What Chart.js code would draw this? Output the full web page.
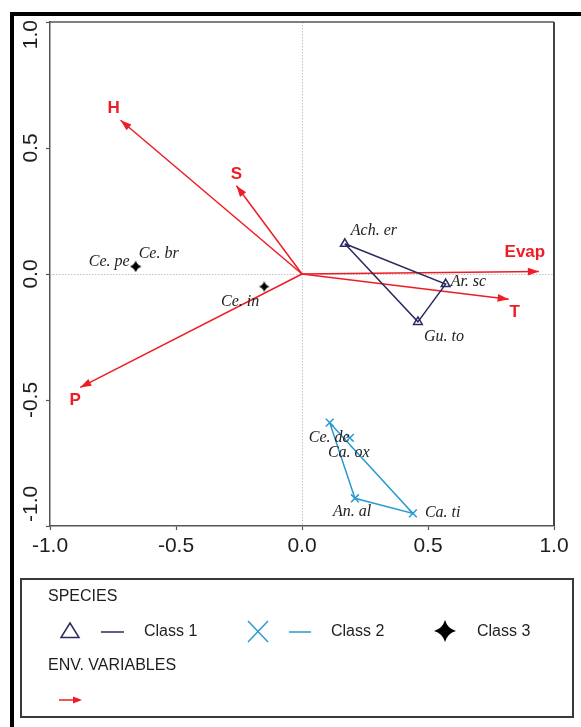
<!DOCTYPE html>
<html><head><meta charset="utf-8">
<script src="https://cdn.jsdelivr.net/npm/chart.js@4.4.1/dist/chart.umd.min.js"></script>
<style>html,body{margin:0;padding:0;background:#fff}canvas{display:block}</style>
</head><body>
<canvas id="c" width="581" height="727"></canvas>
<script>
// ---- data ----
const xTickLabels = ['-1.0','-0.5','0.0','0.5','1.0'];
const yTickLabels = ['-1.0','-0.5','0.0','0.5','1.0'];
const envNames = ['H','S','Evap','T','P'];
const envX = [-0.72,-0.26,0.94,0.82,-0.88];
const envY = [0.61,0.35,0.01,-0.10,-0.45];
const class1Names = ['Ach. er','Ar. sc','Gu. to'];
const class1X = [0.17,0.57,0.46];
const class1Y = [0.12,-0.04,-0.19];
const class2Names = ['Ce. de','Ca. ox','An. al','Ca. ti'];
const class2X = [0.11,0.19,0.21,0.44];
const class2Y = [-0.59,-0.65,-0.89,-0.95];
const class3Names = ['Ce. pe','Ce. br','Ce. in'];
const class3X = [-0.66,-0.66,-0.15];
const class3Y = [0.03,0.03,-0.05];
const class1Hull = [0,1,2,0];
const class2Hull = [0,3,2,0];
const legendClasses = ['Class 1','Class 2','Class 3'];
const legendTitles = ['SPECIES','ENV. VARIABLES'];

// ---- styles ----
const RED = '#ee1c25', NAVY = '#2a2a62', LBLUE = '#2a9bd0', TXT = '#1e1e1e';
const SANS = '"Liberation Sans", Arial, sans-serif';
const SERIF = '"Liberation Serif", "Times New Roman", serif';
const labelPlace = {
  'Ach. er':[6,-13,'left'], 'Ar. sc':[5,-2,'left'], 'Gu. to':[6,15,'left'],
  'Ce. de':[-21,15,'left'], 'Ca. ox':[-22,15,'left'], 'An. al':[-22,14,'left'], 'Ca. ti':[12,-1,'left'],
  'Ce. pe':[-6,-5,'right'], 'Ce. br':[3,-13,'left'], 'Ce. in':[-5,15,'right']
};
const envLabelPlace = {H:[-7,-12], S:[0,-11], Evap:[-14,-19], T:[6,13], P:[-5,13]};

function starPath(ctx, cx, cy, r){
  const k = r*0.22;
  ctx.beginPath();
  ctx.moveTo(cx, cy-r);
  ctx.quadraticCurveTo(cx+k, cy-k, cx+r, cy);
  ctx.quadraticCurveTo(cx+k, cy+k, cx, cy+r);
  ctx.quadraticCurveTo(cx-k, cy+k, cx-r, cy);
  ctx.quadraticCurveTo(cx-k, cy-k, cx, cy-r);
  ctx.closePath();
}
const starImg = document.createElement('canvas');
starImg.width = 12; starImg.height = 12;
(function(){ const g = starImg.getContext('2d'); g.fillStyle='#000'; starPath(g,6,6,5.5); g.fill(); })();

function pts(xs, ys, idx){ return (idx || xs.map((_,i)=>i)).map(i=>({x:xs[i], y:ys[i]})); }

const datasets = [];
envNames.forEach((n,i)=>{
  datasets.push({label:n, data:[{x:0,y:0},{x:envX[i],y:envY[i]}], showLine:true,
    borderColor:RED, borderWidth:1.5, pointRadius:0, order:5});
});
datasets.push({label:'c1hull', data:pts(class1X,class1Y,class1Hull), showLine:true, borderColor:NAVY, borderWidth:1.5, pointRadius:0});
datasets.push({label:'c2hull', data:pts(class2X,class2Y,class2Hull), showLine:true, borderColor:LBLUE, borderWidth:1.5, pointRadius:0});
datasets.push({label:'Class 1', data:pts(class1X,class1Y), pointStyle:'triangle', pointRadius:5, borderColor:NAVY, backgroundColor:'rgba(0,0,0,0)', borderWidth:1.5});
datasets.push({label:'Class 2', data:pts(class2X,class2Y), pointStyle:'crossRot', pointRadius:5.5, borderColor:LBLUE, borderWidth:1.5});
datasets.push({label:'Class 3', data:pts(class3X,class3Y), pointStyle:starImg, pointRadius:6});

const decor = {
  id:'decor',
  beforeDraw(chart){
    const ctx = chart.ctx;
    ctx.save();
    ctx.fillStyle = '#fff'; ctx.fillRect(0,0,chart.width,chart.height);
    ctx.fillStyle = '#000';
    ctx.fillRect(10,12,571,4);
    ctx.fillRect(10,12,4,715);
    ctx.restore();
  },
  beforeDatasetsDraw(chart){
    const {ctx, chartArea:a, scales:{x,y}} = chart;
    ctx.save();
    ctx.strokeStyle = '#a8a8a8'; ctx.lineWidth = 0.7; ctx.setLineDash([1.5,1.5]);
    const x0 = Math.round(x.getPixelForValue(0))+0.5, y0 = Math.round(y.getPixelForValue(0))+0.5;
    ctx.beginPath(); ctx.moveTo(x0,a.top); ctx.lineTo(x0,a.bottom); ctx.stroke();
    ctx.beginPath(); ctx.moveTo(a.left,y0); ctx.lineTo(a.right,y0); ctx.stroke();
    ctx.setLineDash([]);
    ctx.strokeStyle = '#555'; ctx.lineWidth = 1.5;
    ctx.beginPath(); ctx.moveTo(a.left,a.top); ctx.lineTo(a.right,a.top); ctx.stroke();
    ctx.strokeStyle = '#444'; ctx.lineWidth = 2;
    ctx.beginPath(); ctx.moveTo(a.right,a.top); ctx.lineTo(a.right,a.bottom); ctx.stroke();
    ctx.restore();
  },
  afterDraw(chart){
    const {ctx, chartArea:a, scales:{x,y}} = chart;
    ctx.save();
    // y tick labels (rotated)
    ctx.fillStyle = TXT; ctx.font = '21px '+SANS; ctx.textBaseline = 'middle';
    const yVals = [-1,-0.5,0,0.5,1];
    yVals.forEach((v,i)=>{
      let py = y.getPixelForValue(v), align = 'center';
      if (i === yVals.length-1){ py = a.top - 2; align = 'right'; }
      if (i === 0){ py = a.bottom - 4; align = 'left'; }
      ctx.save(); ctx.translate(30, py); ctx.rotate(-Math.PI/2);
      ctx.textAlign = align; ctx.fillText(yTickLabels[i], 0, 1); ctx.restore();
    });
    // arrowheads + env labels
    const ox = x.getPixelForValue(0), oy = y.getPixelForValue(0);
    envNames.forEach((n,i)=>{
      const tx = x.getPixelForValue(envX[i]), ty = y.getPixelForValue(envY[i]);
      const ang = Math.atan2(ty-oy, tx-ox);
      ctx.save(); ctx.translate(tx,ty); ctx.rotate(ang);
      ctx.fillStyle = RED; ctx.beginPath(); ctx.moveTo(0,0); ctx.lineTo(-11,-3.8); ctx.lineTo(-11,3.8); ctx.closePath(); ctx.fill();
      ctx.restore();
      const [dx,dy] = envLabelPlace[n];
      ctx.fillStyle = RED; ctx.font = 'bold 17px '+SANS; ctx.textAlign='center'; ctx.textBaseline='middle';
      ctx.fillText(n, tx+dx, ty+dy);
    });
    // species labels
    ctx.font = 'italic 16px '+SERIF; ctx.fillStyle = '#222'; ctx.textBaseline='middle';
    const lab = (names, xs, ys) => names.forEach((n,i)=>{
      const px = x.getPixelForValue(xs[i]), py = y.getPixelForValue(ys[i]);
      const [dx,dy,al] = labelPlace[n];
      ctx.textAlign = al; ctx.fillText(n, px+dx, py+dy);
    });
    lab(class1Names, class1X, class1Y);
    lab(class2Names, class2X, class2Y);
    lab(class3Names, class3X, class3Y);
    // legend
    ctx.strokeStyle = '#3a3a3a'; ctx.lineWidth = 2; ctx.strokeRect(21,579,552,138);
    ctx.fillStyle = TXT; ctx.font = '16px '+SANS; ctx.textAlign='left'; ctx.textBaseline='middle';
    ctx.fillText(legendTitles[0], 48, 597);
    ctx.fillText(legendTitles[1], 48, 666);
    ctx.fillText(legendClasses[0], 144, 632);
    ctx.fillText(legendClasses[1], 331, 632);
    ctx.fillText(legendClasses[2], 477, 632);
    ctx.lineWidth = 1.5;
    ctx.strokeStyle = NAVY;
    ctx.beginPath(); ctx.moveTo(61,637.5); ctx.lineTo(79,637.5); ctx.lineTo(70,623); ctx.closePath(); ctx.stroke();
    ctx.beginPath(); ctx.moveTo(101,632); ctx.lineTo(124,632); ctx.stroke();
    ctx.strokeStyle = LBLUE;
    ctx.beginPath(); ctx.moveTo(248,621); ctx.lineTo(268,642); ctx.moveTo(268,621); ctx.lineTo(248,642); ctx.stroke();
    ctx.beginPath(); ctx.moveTo(289,632); ctx.lineTo(311,632); ctx.stroke();
    ctx.fillStyle = '#000'; starPath(ctx, 445, 631, 11); ctx.fill();
    ctx.strokeStyle = RED; ctx.beginPath(); ctx.moveTo(59,700); ctx.lineTo(76,700); ctx.stroke();
    ctx.fillStyle = RED; ctx.beginPath(); ctx.moveTo(82,700); ctx.lineTo(73,696.5); ctx.lineTo(73,703.5); ctx.closePath(); ctx.fill();
    ctx.restore();
  }
};

Chart.defaults.font.family = SANS;
new Chart(document.getElementById('c'), {
  type:'scatter',
  data:{datasets},
  options:{
    responsive:false, animation:false,
    layout:{padding:{left:14, top:22, right:27, bottom:161}},
    plugins:{legend:{display:false}, tooltip:{enabled:false}},
    scales:{
      x:{type:'linear', min:-1, max:1,
        ticks:{stepSize:0.5, color:TXT, font:{size:21}, padding:4, maxRotation:0,
          callback:(v,i)=>xTickLabels[i]},
        grid:{drawOnChartArea:false, tickLength:4, tickColor:'#555', tickWidth:1.2},
        border:{color:'#555', width:1.5},
        afterFit(s){ s.height = 40; }
      },
      y:{type:'linear', min:-1, max:1,
        ticks:{stepSize:0.5, display:false},
        grid:{drawOnChartArea:false, tickLength:4, tickColor:'#555', tickWidth:1.2},
        border:{color:'#555', width:1.5},
        afterFit(s){ s.width = 36; }
      }
    }
  },
  plugins:[decor]
});
</script>
</body></html>
